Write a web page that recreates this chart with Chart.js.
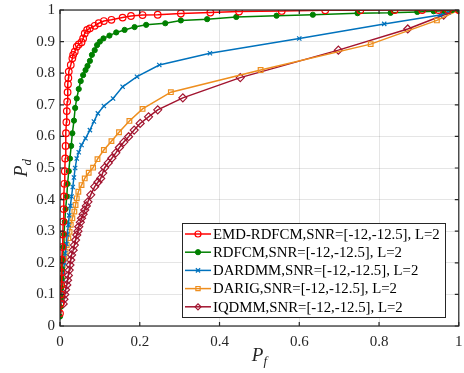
<!DOCTYPE html>
<html>
<head>
<meta charset="utf-8">
<script src="https://cdn.jsdelivr.net/npm/chart.js@4/dist/chart.umd.min.js"></script>
<style>
  body { margin: 0; background: #fff; }
  canvas { display: block; }
</style>
</head>
<body>
<canvas id="rocChart" width="464" height="373"></canvas>
<script>
// ROC curves: detection probability vs false alarm probability
var xTicks = [0, 0.2, 0.4, 0.6, 0.8, 1];
var yTicks = [0, 0.1, 0.2, 0.3, 0.4, 0.5, 0.6, 0.7, 0.8, 0.9, 1];

var emdPf = [0, 0.001, 0.002, 0.003, 0.004, 0.005, 0.006, 0.007, 0.008, 0.009, 0.010, 0.011, 0.012, 0.013, 0.014, 0.015, 0.016, 0.017, 0.018, 0.019, 0.020, 0.021, 0.022, 0.027, 0.031, 0.033, 0.037, 0.042, 0.047, 0.054, 0.058, 0.062, 0.068, 0.075, 0.087, 0.097, 0.110, 0.129, 0.157, 0.178, 0.207, 0.245, 0.303, 0.377, 0.449, 0.556, 0.665, 0.753, 0.839, 0.908, 0.949, 0.973, 1];
var emdPd = [0.04, 0.07, 0.10, 0.13, 0.17, 0.21, 0.25, 0.29, 0.33, 0.37, 0.41, 0.45, 0.49, 0.53, 0.57, 0.61, 0.645, 0.68, 0.71, 0.74, 0.765, 0.785, 0.805, 0.826, 0.847, 0.858, 0.868, 0.884, 0.891, 0.898, 0.910, 0.926, 0.937, 0.942, 0.950, 0.958, 0.965, 0.969, 0.976, 0.981, 0.984, 0.985, 0.989, 0.992, 0.995, 0.997, 0.999, 0.999, 1, 1, 1, 1, 1];

var rdfPf = [0, 0.001, 0.002, 0.003, 0.004, 0.005, 0.006, 0.008, 0.010, 0.012, 0.014, 0.017, 0.019, 0.022, 0.025, 0.028, 0.031, 0.035, 0.038, 0.042, 0.047, 0.052, 0.058, 0.064, 0.069, 0.075, 0.080, 0.087, 0.093, 0.100, 0.109, 0.124, 0.141, 0.162, 0.187, 0.216, 0.264, 0.303, 0.369, 0.442, 0.543, 0.634, 0.746, 0.829, 0.896, 0.937, 0.962, 0.983, 1];
var rdfPd = [0.03, 0.06, 0.09, 0.12, 0.15, 0.18, 0.21, 0.25, 0.29, 0.33, 0.37, 0.41, 0.45, 0.49, 0.53, 0.57, 0.61, 0.65, 0.69, 0.72, 0.75, 0.775, 0.794, 0.810, 0.823, 0.839, 0.858, 0.873, 0.889, 0.900, 0.910, 0.919, 0.929, 0.937, 0.946, 0.953, 0.958, 0.967, 0.971, 0.978, 0.982, 0.985, 0.990, 0.991, 0.994, 0.996, 0.998, 1, 1];

var dardPf = [0, 0.002, 0.004, 0.007, 0.009, 0.011, 0.013, 0.016, 0.018, 0.021, 0.023, 0.026, 0.029, 0.032, 0.035, 0.038, 0.042, 0.047, 0.054, 0.064, 0.075, 0.085, 0.095, 0.110, 0.133, 0.157, 0.193, 0.249, 0.376, 0.600, 0.813, 0.953, 0.974, 1];
var dardPd = [0.05, 0.08, 0.11, 0.14, 0.17, 0.20, 0.23, 0.26, 0.29, 0.32, 0.35, 0.38, 0.41, 0.44, 0.47, 0.50, 0.53, 0.55, 0.573, 0.594, 0.620, 0.647, 0.673, 0.696, 0.720, 0.757, 0.789, 0.826, 0.863, 0.910, 0.956, 0.984, 0.993, 1];

var darigPf = [0.002, 0.003, 0.004, 0.005, 0.007, 0.011, 0.014, 0.017, 0.021, 0.024, 0.027, 0.031, 0.036, 0.039, 0.042, 0.046, 0.054, 0.062, 0.072, 0.083, 0.094, 0.110, 0.129, 0.148, 0.174, 0.207, 0.278, 0.503, 0.779, 0.945, 1];
var darigPd = [0.10, 0.13, 0.15, 0.172, 0.193, 0.214, 0.235, 0.256, 0.278, 0.298, 0.320, 0.341, 0.362, 0.383, 0.404, 0.425, 0.446, 0.467, 0.485, 0.501, 0.528, 0.557, 0.585, 0.613, 0.649, 0.687, 0.740, 0.810, 0.892, 0.967, 1];

var iqdPf = [0.008, 0.010, 0.012, 0.014, 0.017, 0.019, 0.021, 0.023, 0.025, 0.027, 0.029, 0.033, 0.036, 0.039, 0.042, 0.045, 0.047, 0.051, 0.054, 0.058, 0.062, 0.066, 0.070, 0.077, 0.087, 0.095, 0.102, 0.107, 0.112, 0.121, 0.130, 0.140, 0.149, 0.160, 0.172, 0.186, 0.201, 0.222, 0.245, 0.308, 0.452, 0.698, 0.872, 0.962, 1];
var iqdPd = [0.07, 0.085, 0.10, 0.115, 0.13, 0.145, 0.16, 0.177, 0.193, 0.209, 0.225, 0.24, 0.256, 0.272, 0.288, 0.30, 0.314, 0.328, 0.341, 0.354, 0.367, 0.38, 0.393, 0.415, 0.441, 0.455, 0.467, 0.484, 0.501, 0.516, 0.531, 0.548, 0.565, 0.582, 0.599, 0.62, 0.641, 0.662, 0.684, 0.722, 0.786, 0.873, 0.940, 0.984, 1];

var seriesLabels = [
  'EMD-RDFCM,SNR=[-12,-12.5], L=2',
  'RDFCM,SNR=[-12,-12.5], L=2',
  'DARDMM,SNR=[-12,-12.5], L=2',
  'DARIG,SNR=[-12,-12.5], L=2',
  'IQDMM,SNR=[-12,-12.5], L=2'
];

var serif = "'Liberation Serif', 'DejaVu Serif', serif";
var axisColor = '#262626';

function toPoints(xs, ys) {
  return xs.map(function (x, i) { return { x: x, y: ys[i] }; });
}

function makeSet(label, xs, ys, color, style, radius, fill, bw) {
  return {
    label: label,
    data: toPoints(xs, ys),
    borderColor: color,
    borderWidth: 1.5,
    pointStyle: style,
    pointRadius: radius,
    pointBorderWidth: bw,
    pointBorderColor: color,
    pointBackgroundColor: fill ? color : 'rgba(0,0,0,0)',
    showLine: true,
    tension: 0
  };
}

// box with inward ticks, drawn over the curves
var framePlugin = {
  id: 'frame',
  afterDatasetsDraw: function (chart) {
    var ctx = chart.ctx, a = chart.chartArea;
    var xs = chart.scales.x, ys = chart.scales.y;
    ctx.save();
    ctx.strokeStyle = axisColor;
    ctx.lineWidth = 1.2;
    ctx.strokeRect(a.left, a.top, a.right - a.left, a.bottom - a.top);
    ctx.beginPath();
    xTicks.forEach(function (t) {
      var px = xs.getPixelForValue(t);
      ctx.moveTo(px, a.bottom); ctx.lineTo(px, a.bottom - 4);
      ctx.moveTo(px, a.top); ctx.lineTo(px, a.top + 4);
    });
    yTicks.forEach(function (t) {
      var py = ys.getPixelForValue(t);
      ctx.moveTo(a.left, py); ctx.lineTo(a.left + 4, py);
      ctx.moveTo(a.right, py); ctx.lineTo(a.right - 4, py);
    });
    ctx.stroke();
    ctx.restore();
  }
};

// legend box in the lower right corner of the plot
var legendPlugin = {
  id: 'cornerLegend',
  afterDraw: function (chart) {
    var ctx = chart.ctx;
    var bx = 182, by = 223, bw = 263, bh = 94, rowH = 18.2;
    ctx.save();
    ctx.fillStyle = '#fff';
    ctx.fillRect(bx, by, bw, bh);
    ctx.strokeStyle = axisColor;
    ctx.lineWidth = 1;
    ctx.strokeRect(bx + 0.5, by + 0.5, bw, bh);
    chart.data.datasets.forEach(function (ds, i) {
      var cy = by + 11 + i * rowH;
      ctx.strokeStyle = ds.borderColor;
      ctx.lineWidth = ds.borderWidth;
      ctx.beginPath();
      ctx.moveTo(bx + 3, cy);
      ctx.lineTo(bx + 29, cy);
      ctx.stroke();
      ctx.fillStyle = ds.pointBackgroundColor;
      ctx.lineWidth = ds.pointBorderWidth;
      Chart.helpers.drawPoint(ctx, {
        pointStyle: ds.pointStyle,
        radius: Math.min(ds.pointRadius, 3),
        borderWidth: ds.pointBorderWidth,
        rotation: 0
      }, bx + 16, cy);
      ctx.fillStyle = '#000';
      ctx.font = '14.8px ' + serif;
      ctx.textBaseline = 'middle';
      ctx.textAlign = 'left';
      ctx.fillText(ds.label, bx + 31, cy + 1);
    });
    ctx.restore();
  }
};

// italic axis titles with subscripts
var titlePlugin = {
  id: 'axisTitles',
  afterDraw: function (chart) {
    var ctx = chart.ctx, a = chart.chartArea;
    ctx.save();
    ctx.fillStyle = axisColor;
    ctx.textBaseline = 'alphabetic';
    ctx.textAlign = 'left';
    function sub(main, s) {
      ctx.font = 'italic 19px ' + serif;
      var w = ctx.measureText(main).width;
      ctx.font = 'italic 13px ' + serif;
      var ws = ctx.measureText(s).width;
      var x0 = -(w + ws) / 2;
      ctx.font = 'italic 19px ' + serif;
      ctx.fillText(main, x0, 0);
      ctx.font = 'italic 13px ' + serif;
      ctx.fillText(s, x0 + w, 4);
    }
    ctx.save();
    ctx.translate((a.left + a.right) / 2, 361);
    sub('P', 'f');
    ctx.restore();
    ctx.save();
    ctx.translate(27, (a.top + a.bottom) / 2);
    ctx.rotate(-Math.PI / 2);
    sub('P', 'd');
    ctx.restore();
    ctx.restore();
  }
};

// drop the automatic padding Chart.js adds for edge tick labels
function noEdgePadding(scale) {
  scale.paddingLeft = 0;
  scale.paddingRight = 0;
  scale.paddingTop = 0;
  scale.paddingBottom = 0;
}

function renderChart() {
  var ctx = document.getElementById('rocChart').getContext('2d');
  new Chart(ctx, {
    type: 'scatter',
    data: {
      datasets: [
        makeSet(seriesLabels[0], emdPf, emdPd, '#ff0000', 'circle', 3.3, false, 1.2),
        makeSet(seriesLabels[1], rdfPf, rdfPd, '#008000', 'circle', 2.6, true, 1),
        makeSet(seriesLabels[2], dardPf, dardPd, '#0072bd', 'crossRot', 3, false, 1.2),
        makeSet(seriesLabels[3], darigPf, darigPd, '#ee8e1e', 'rect', 3.3, false, 1.2),
        makeSet(seriesLabels[4], iqdPf, iqdPd, '#a2142f', 'rectRot', 4, false, 1.2)
      ]
    },
    options: {
      responsive: false,
      animation: false,
      devicePixelRatio: 1,
      layout: { padding: { left: 0, right: 2, top: 10, bottom: 0 } },
      plugins: {
        legend: { display: false },
        tooltip: { enabled: false }
      },
      scales: {
        x: {
          type: 'linear',
          min: 0,
          max: 1,
          afterBuildTicks: function (scale) {
            scale.ticks = xTicks.map(function (v) { return { value: v }; });
          },
          afterFit: function (scale) { scale.height = 47; noEdgePadding(scale); },
          ticks: {
            padding: 7,
            color: axisColor,
            font: { family: serif, size: 15 },
            callback: function (v) { return String(Math.round(v * 10) / 10); }
          },
          grid: { color: 'rgba(0,0,0,0.1)', drawTicks: false },
          border: { display: false }
        },
        y: {
          type: 'linear',
          min: 0,
          max: 1,
          afterBuildTicks: function (scale) {
            scale.ticks = yTicks.map(function (v) { return { value: v }; });
          },
          afterFit: function (scale) { scale.width = 60; noEdgePadding(scale); },
          ticks: {
            padding: 5,
            color: axisColor,
            font: { family: serif, size: 15 },
            callback: function (v) { return String(Math.round(v * 10) / 10); }
          },
          grid: { color: 'rgba(0,0,0,0.1)', drawTicks: false },
          border: { display: false }
        }
      }
    },
    plugins: [framePlugin, legendPlugin, titlePlugin]
  });
}

document.addEventListener('DOMContentLoaded', renderChart);
</script>
</body>
</html>
